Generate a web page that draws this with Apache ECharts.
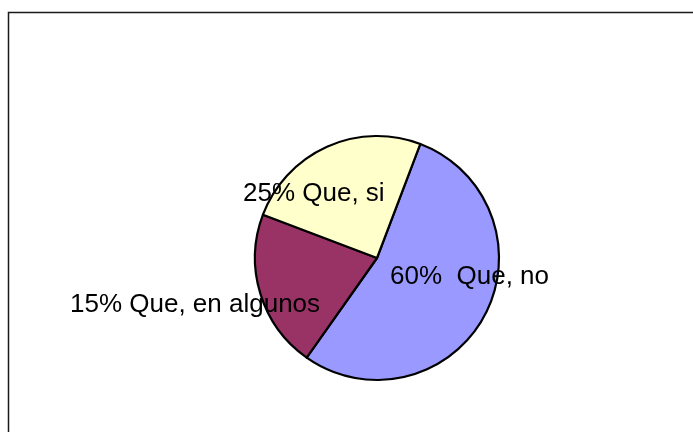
<!DOCTYPE html>
<html>
<head>
<meta charset="utf-8">
<script src="https://cdn.jsdelivr.net/npm/echarts@6/dist/echarts.min.js"></script>
<style>
  html, body { margin: 0; padding: 0; background: #fff; }
  #main { width: 693px; height: 432px; }
</style>
</head>
<body>
<div id="main"></div>
<script>
// 数据
var names = ["Que, no", "Que, en algunos", "Que, si"];
var labels = ["60%  Que, no", "15% Que, en algunos", "25% Que, si"];
var values = [54, 21, 25];
var colors = ["#9999ff", "#993366", "#ffffcc"];

// 标签位置（像素）
var labelPos = [
  { x: 390, y: 277 },
  { x: 70, y: 305 },
  { x: 243, y: 194 }
];

var myChart = echarts.init(document.getElementById("main"));

var option = {
  animation: false,
  graphic: [
    {
      type: "polyline",
      shape: { points: [[8.5, 432], [8.5, 12.5], [693, 12.5]] },
      style: { stroke: "#1a1a1a", lineWidth: 1.5, fill: null }
    }
  ],
  series: [
    {
      type: "pie",
      center: [377, 258],
      radius: [0, 122],
      startAngle: 69.2,
      clockwise: true,
      itemStyle: {
        borderColor: "#000",
        borderWidth: 2.2
      },
      label: {
        show: true,
        position: "inside",
        color: "#000",
        fontFamily: "Liberation Sans, Arial, sans-serif",
        fontSize: 26,
        formatter: function (p) { return labels[p.dataIndex]; }
      },
      labelLine: { show: false },
      labelLayout: function (p) {
        var pos = labelPos[p.dataIndex];
        return { x: pos.x, y: pos.y, align: "left", verticalAlign: "middle" };
      },
      emphasis: { disabled: true },
      data: names.map(function (n, i) {
        return { name: n, value: values[i], itemStyle: { color: colors[i] } };
      })
    }
  ]
};

myChart.setOption(option);
window.addEventListener("resize", function () {
  myChart.resize();
});
</script>
</body>
</html>
